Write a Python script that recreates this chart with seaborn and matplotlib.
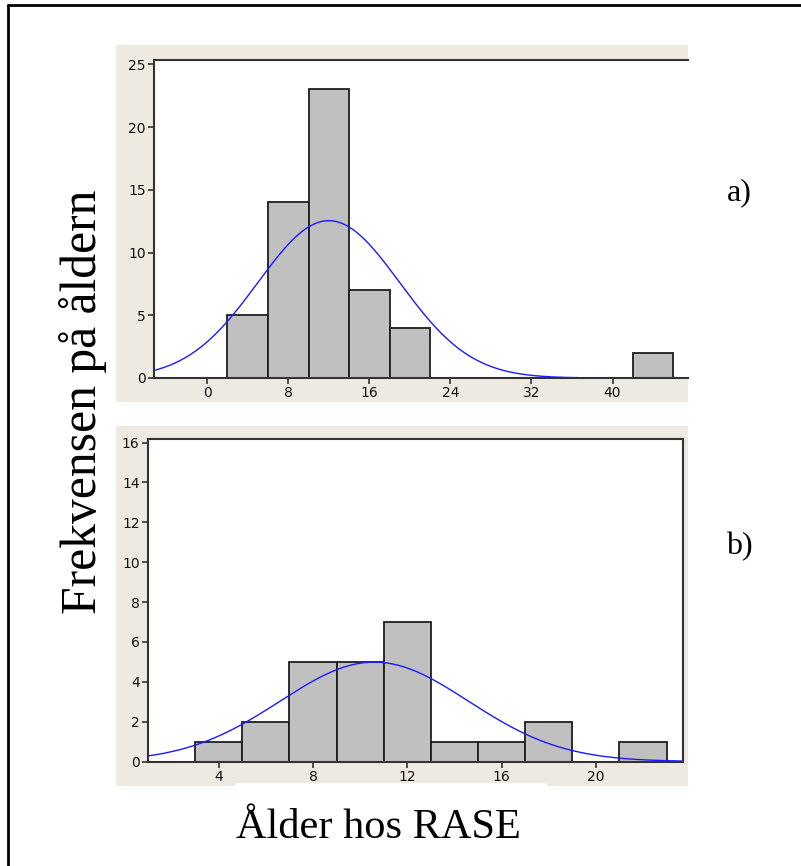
import numpy as np
import pandas as pd
import matplotlib
matplotlib.use("Agg")
import matplotlib.pyplot as plt
from matplotlib.patches import Rectangle
from matplotlib.lines import Line2D
import seaborn as sns

# Panel a): age histogram (bin width 4)
edges_a = [2, 6, 10, 14, 18, 22, 26, 30, 34, 38, 42, 46]
counts_a = [5, 14, 23, 7, 4, 0, 0, 0, 0, 0, 2]
fit_a = {"mean": 12.0, "sd": 7.0}
xticks_a = [0, 8, 16, 24, 32, 40]
yticks_a = [0, 5, 10, 15, 20, 25]

# Panel b): age histogram (bin width 2)
edges_b = [3, 5, 7, 9, 11, 13, 15, 17, 19, 21, 23]
counts_b = [1, 2, 5, 5, 7, 1, 1, 2, 0, 1]
fit_b = {"mean": 10.6, "sd": 4.0}
xticks_b = [4, 8, 12, 16, 20]
yticks_b = [0, 2, 4, 6, 8, 10, 12, 14, 16]

ylabel = "Frekvensen på åldern"
xlabel = "Ålder hos RASE"

sns.set_style("ticks")
plt.rcParams["font.family"] = ["DejaVu Sans"]

W, H = 801, 866
fig = plt.figure(figsize=(W / 100, H / 100), dpi=100)
fig.patch.set_facecolor("white")


def fx(px):
    return px / W


def fy(py):
    return 1 - py / H


def frame(x0, y0, x1, y1, color):
    fig.patches.append(Rectangle((fx(x0), fy(y1)), fx(x1) - fx(x0), fy(y0) - fy(y1),
                                 transform=fig.transFigure, facecolor=color,
                                 edgecolor="none", zorder=0))


beige = "#EEEAE1"
frame(116, 45, 688, 402, beige)
frame(116, 426, 688, 786, beige)
frame(235, 783, 547, 787, "white")

# outer border (left and top)
fig.lines.append(Line2D([fx(8), fx(8)], [fy(5), 0], transform=fig.transFigure,
                        color="black", lw=2))
fig.lines.append(Line2D([fx(8), 1], [fy(5), fy(5)], transform=fig.transFigure,
                        color="black", lw=2))


def make_axes(left, top, right, bottom):
    ax = fig.add_axes([fx(left), fy(bottom), fx(right) - fx(left), fy(top) - fy(bottom)])
    ax.set_zorder(2)
    return ax


def draw_panel(ax, edges, counts, fit, xlim, ylim, xticks, yticks, right_spine):
    edge_arr = np.asarray(edges, dtype=float)
    df = pd.DataFrame({
        "age": (edge_arr[:-1] + edge_arr[1:]) / 2,
        "count": np.asarray(counts, dtype=float),
    })
    sns.histplot(data=df, x="age", weights="count", bins=list(edges), ax=ax,
                 color="#C0C0C0", edgecolor="#1e1e1e", linewidth=1.3, alpha=1.0)
    n = float(np.sum(counts))
    width = edge_arr[1] - edge_arr[0]
    xs = np.linspace(xlim[0], xlim[1], 400)
    ys = n * width / (fit["sd"] * np.sqrt(2 * np.pi)) * np.exp(-0.5 * ((xs - fit["mean"]) / fit["sd"]) ** 2)
    ax.plot(xs, ys, color="#1a1aff", lw=1.0, zorder=3)
    ax.set_xlim(*xlim)
    ax.set_ylim(*ylim)
    ax.set_xticks(xticks)
    ax.set_yticks(yticks)
    ax.set_xlabel("")
    ax.set_ylabel("")
    ax.set_facecolor("white")
    ax.grid(False)
    for side in ["left", "bottom", "top", "right"]:
        ax.spines[side].set_color("#333333")
        ax.spines[side].set_linewidth(1.5)
    ax.spines["right"].set_visible(right_spine)
    ax.tick_params(axis="both", direction="out", length=4, width=1.2, color="#333333",
                   labelsize=10, labelcolor="#111111", pad=2)


ax_a = make_axes(154, 60, 688, 378)
draw_panel(ax_a, edges_a, counts_a, fit_a, (-5.25, 47.45), (0, 25.34),
           xticks_a, yticks_a, right_spine=False)

ax_b = make_axes(148, 439, 683, 761.5)
draw_panel(ax_b, edges_b, counts_b, fit_b, (1.0, 23.7), (0, 16.18),
           xticks_b, yticks_b, right_spine=True)

serif = ["Liberation Serif", "DejaVu Serif"]
fig.text(fx(83), fy(402), ylabel, rotation=90, ha="center", va="center",
         fontsize=35.7, family=serif, color="black")
fig.text(fx(378), fy(828), xlabel, ha="center", va="center",
         fontsize=30.5, family=serif, color="black")
fig.text(fx(739), fy(193), "a)", ha="center", va="center",
         fontsize=23, family=serif, color="black")
fig.text(fx(739), fy(547), "b)", ha="center", va="center",
         fontsize=23, family=serif, color="black")

fig.savefig("out.png", dpi=100)
